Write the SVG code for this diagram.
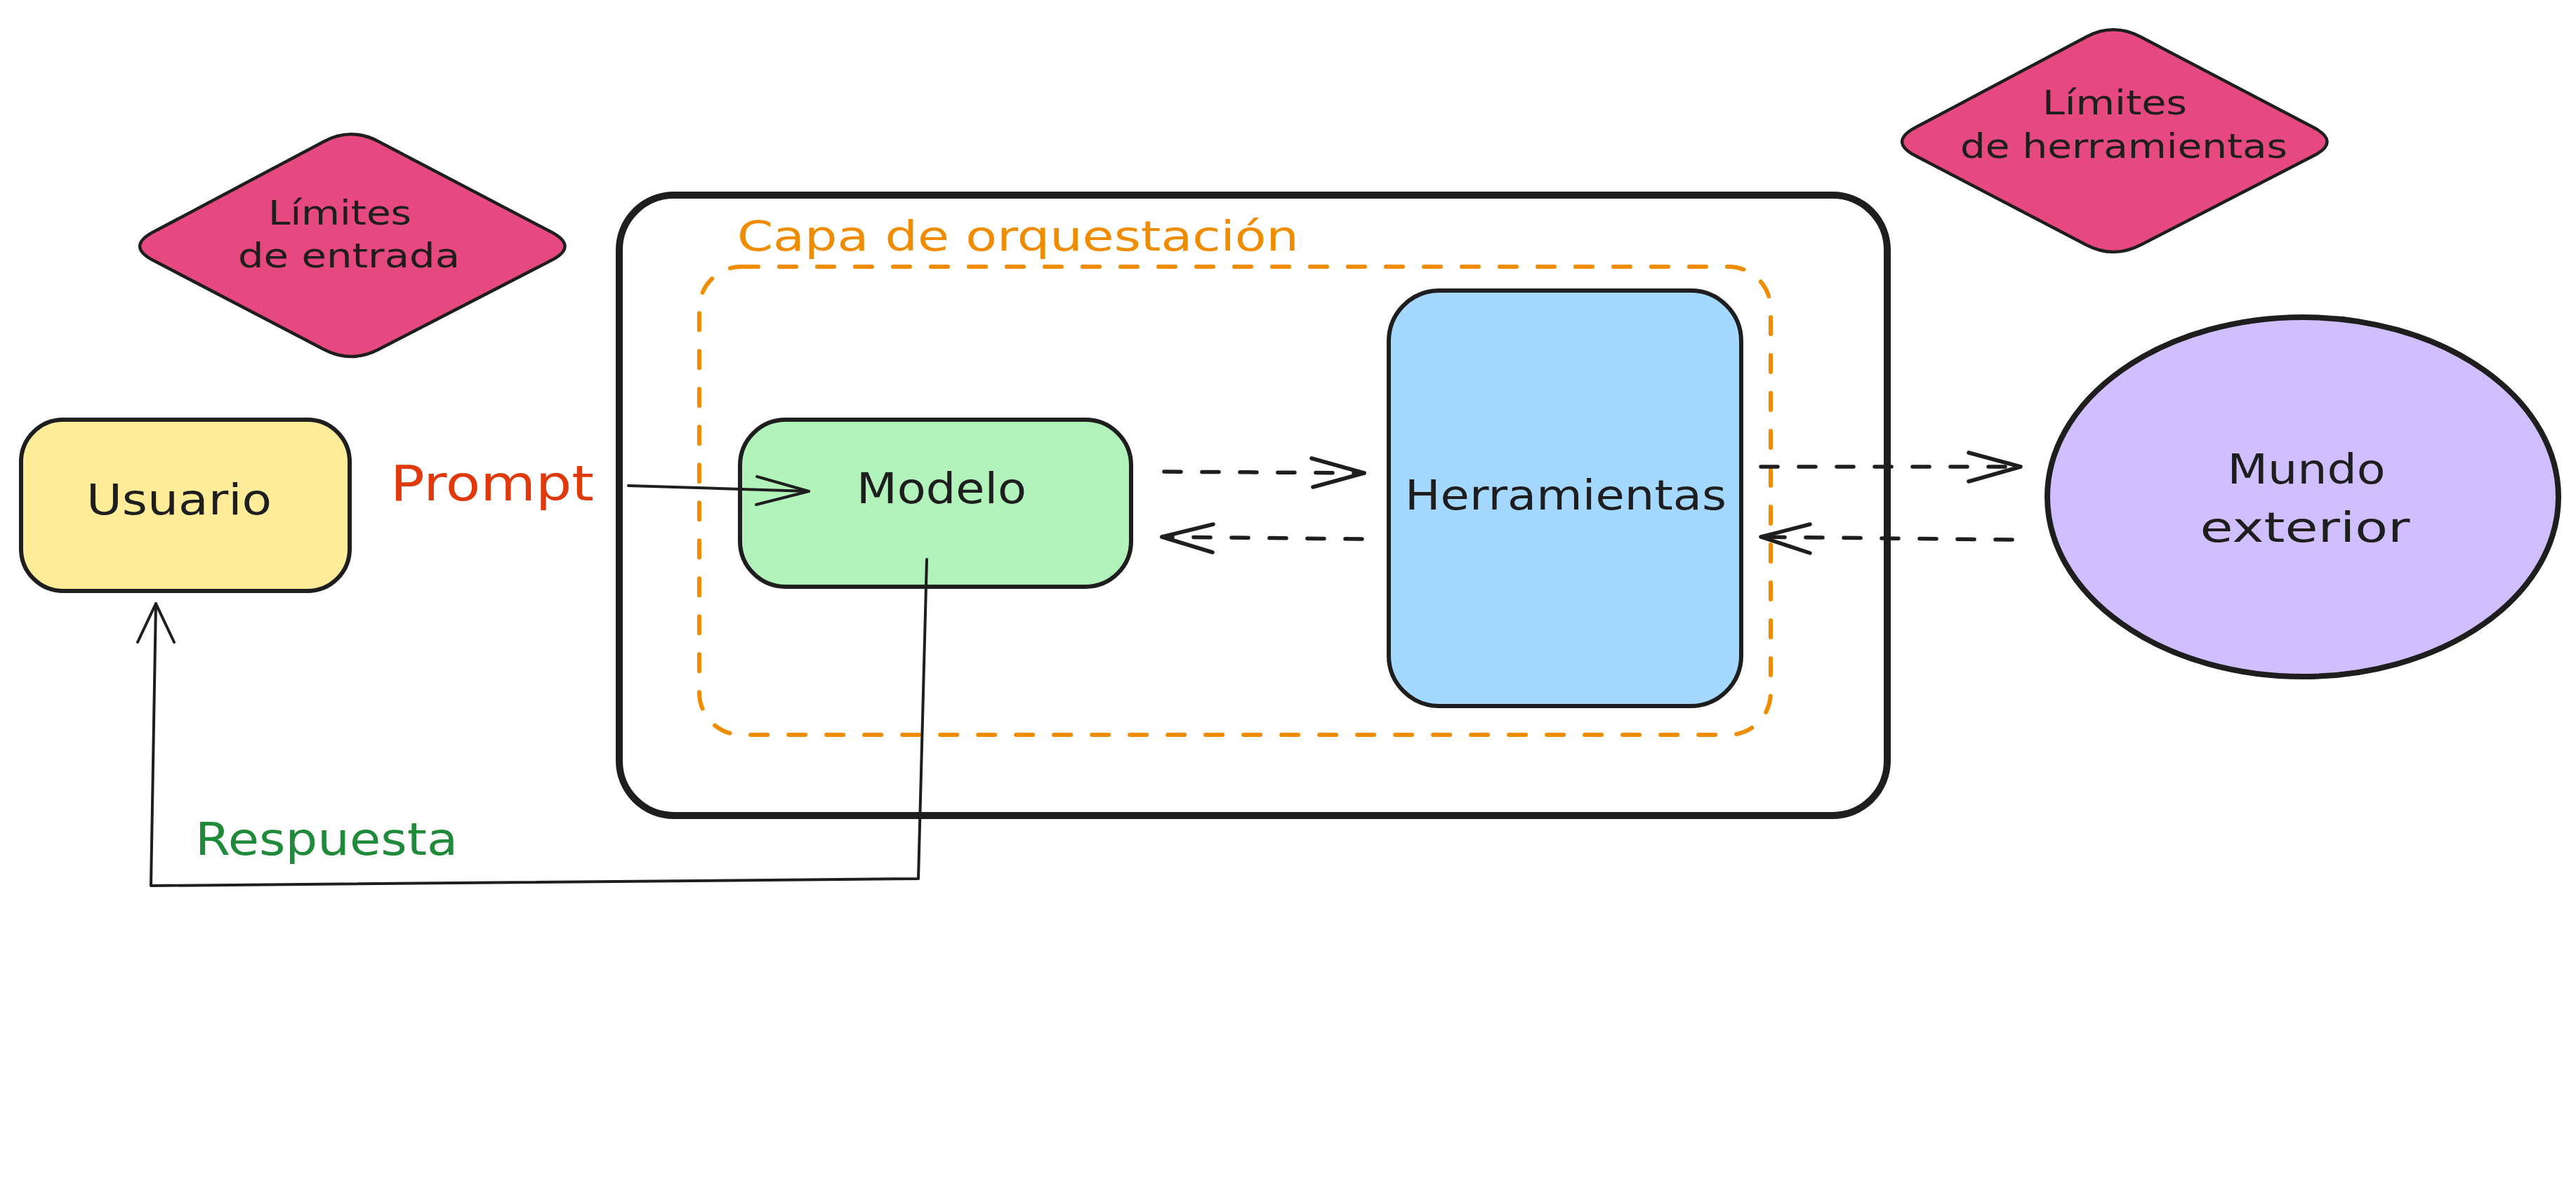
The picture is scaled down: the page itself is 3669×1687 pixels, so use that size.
<svg xmlns="http://www.w3.org/2000/svg" width="3669" height="1687" viewBox="0 0 3669 1687">
  <style>
    .txt { font-family: "DejaVu Sans", "Liberation Sans", sans-serif; fill: #1e1e1e; }
    .node { stroke: #1e1e1e; stroke-width: 6; stroke-linejoin: round; }
    .dia { fill: #e64980; stroke: #1e1e1e; stroke-width: 4.5; stroke-linejoin: round; }
    .conn { fill: none; stroke: #1e1e1e; stroke-width: 4; stroke-linecap: round; stroke-linejoin: round; }
    .dash { fill: none; stroke: #1e1e1e; stroke-width: 5.5; stroke-linecap: round; stroke-dasharray: 24 30; }
    .head { fill: none; stroke: #1e1e1e; stroke-width: 5.5; stroke-linecap: round; stroke-linejoin: round; }
  </style>
  <rect x="0" y="0" width="3669" height="1687" fill="#ffffff"/>

  <g id="orquestacion-externa">
    <rect x="882" y="278" width="1806" height="884" rx="78" ry="78" fill="none" stroke="#1e1e1e" stroke-width="10"/>
  </g>

  <g id="capa-orquestacion">
    <rect x="996" y="380" width="1526" height="667" rx="60" ry="60" fill="none" stroke="#f08c00" stroke-width="6" stroke-linecap="round" stroke-dasharray="24 30"/>
    <text class="txt" x="1450" y="357" font-size="58" text-anchor="middle" textLength="800" lengthAdjust="spacingAndGlyphs" style="fill:#f08c00">Capa de orquestación</text>
  </g>

  <g id="limites-entrada">
    <path class="dia" d="M 538.9 201.4 L 785.1 330.6 Q 824 351 785.1 371 L 538.9 498 Q 500 518 461.6 498 L 218.4 371 Q 180 351 218.4 330.6 L 461.6 201.4 Q 500 181 538.9 201.4 Z"/>
    <text class="txt" x="484" y="320" font-size="48" text-anchor="middle" textLength="204" lengthAdjust="spacingAndGlyphs">Límites</text>
    <text class="txt" x="497" y="381" font-size="48" text-anchor="middle" textLength="316" lengthAdjust="spacingAndGlyphs">de entrada</text>
  </g>

  <g id="limites-herramientas">
    <path class="dia" transform="translate(2510,-149)" d="M 538.9 201.4 L 785.1 330.6 Q 824 351 785.1 371 L 538.9 498 Q 500 518 461.6 498 L 218.4 371 Q 180 351 218.4 330.6 L 461.6 201.4 Q 500 181 538.9 201.4 Z"/>
    <text class="txt" x="3012" y="163" font-size="48" text-anchor="middle" textLength="206" lengthAdjust="spacingAndGlyphs">Límites</text>
    <text class="txt" x="3025" y="225" font-size="48" text-anchor="middle" textLength="466" lengthAdjust="spacingAndGlyphs">de herramientas</text>
  </g>

  <g id="usuario">
    <rect class="node" x="30" y="598" width="468" height="244" rx="60" ry="60" fill="#ffec99"/>
    <text class="txt" x="255" y="733" font-size="60" text-anchor="middle" textLength="264" lengthAdjust="spacingAndGlyphs">Usuario</text>
  </g>

  <g id="modelo">
    <rect class="node" x="1054" y="598" width="557" height="238" rx="65" ry="65" fill="#b2f2bb"/>
    <text class="txt" x="1341" y="717" font-size="60" text-anchor="middle" textLength="242" lengthAdjust="spacingAndGlyphs">Modelo</text>
  </g>

  <g id="herramientas">
    <rect class="node" x="1978" y="414" width="502" height="592" rx="72" ry="72" fill="#a5d8ff"/>
    <text class="txt" x="2230" y="726" font-size="58" text-anchor="middle" textLength="458" lengthAdjust="spacingAndGlyphs">Herramientas</text>
  </g>

  <g id="mundo-exterior">
    <ellipse cx="3280" cy="708" rx="364" ry="256" fill="#d0bfff" stroke="#1e1e1e" stroke-width="8"/>
    <text class="txt" x="3285" y="689" font-size="58" text-anchor="middle" textLength="225" lengthAdjust="spacingAndGlyphs">Mundo</text>
    <text class="txt" x="3283" y="772" font-size="58" text-anchor="middle" textLength="299" lengthAdjust="spacingAndGlyphs">exterior</text>
  </g>

  <g id="connectors">
    <!-- Prompt: Usuario -> Modelo -->
    <path class="conn" d="M 895 692 L 1152 700"/>
    <path class="conn" d="M 1078 679 L 1152 700 L 1077 719"/>
    <text class="txt" x="701" y="713" font-size="70" text-anchor="middle" textLength="290" lengthAdjust="spacingAndGlyphs" style="fill:#e03a0c">Prompt</text>

    <!-- Modelo -> Herramientas -->
    <path class="dash" d="M 1658 672 L 1943 674"/>
    <path class="head" d="M 1868 653 L 1943 674 L 1870 694"/>
    <!-- Herramientas -> Modelo -->
    <path class="dash" d="M 1940 768 L 1655 765"/>
    <path class="head" d="M 1728 747 L 1655 765 L 1727 787"/>

    <!-- Herramientas -> Mundo exterior -->
    <path class="dash" d="M 2508 665 L 2878 665"/>
    <path class="head" d="M 2804 645 L 2878 665 L 2804 686"/>
    <!-- Mundo exterior -> Herramientas -->
    <path class="dash" d="M 2866 769 L 2508 765"/>
    <path class="head" d="M 2578 747 L 2508 765 L 2578 788"/>

    <!-- Respuesta: Modelo -> Usuario -->
    <path class="conn" d="M 1320 797 L 1308 1252 L 215 1262 L 222 860"/>
    <path class="conn" d="M 196 915 L 222 860 L 248 915"/>
    <text class="txt" x="465" y="1218" font-size="64" text-anchor="middle" textLength="374" lengthAdjust="spacingAndGlyphs" style="fill:#1e8a3a">Respuesta</text>
  </g>
</svg>
